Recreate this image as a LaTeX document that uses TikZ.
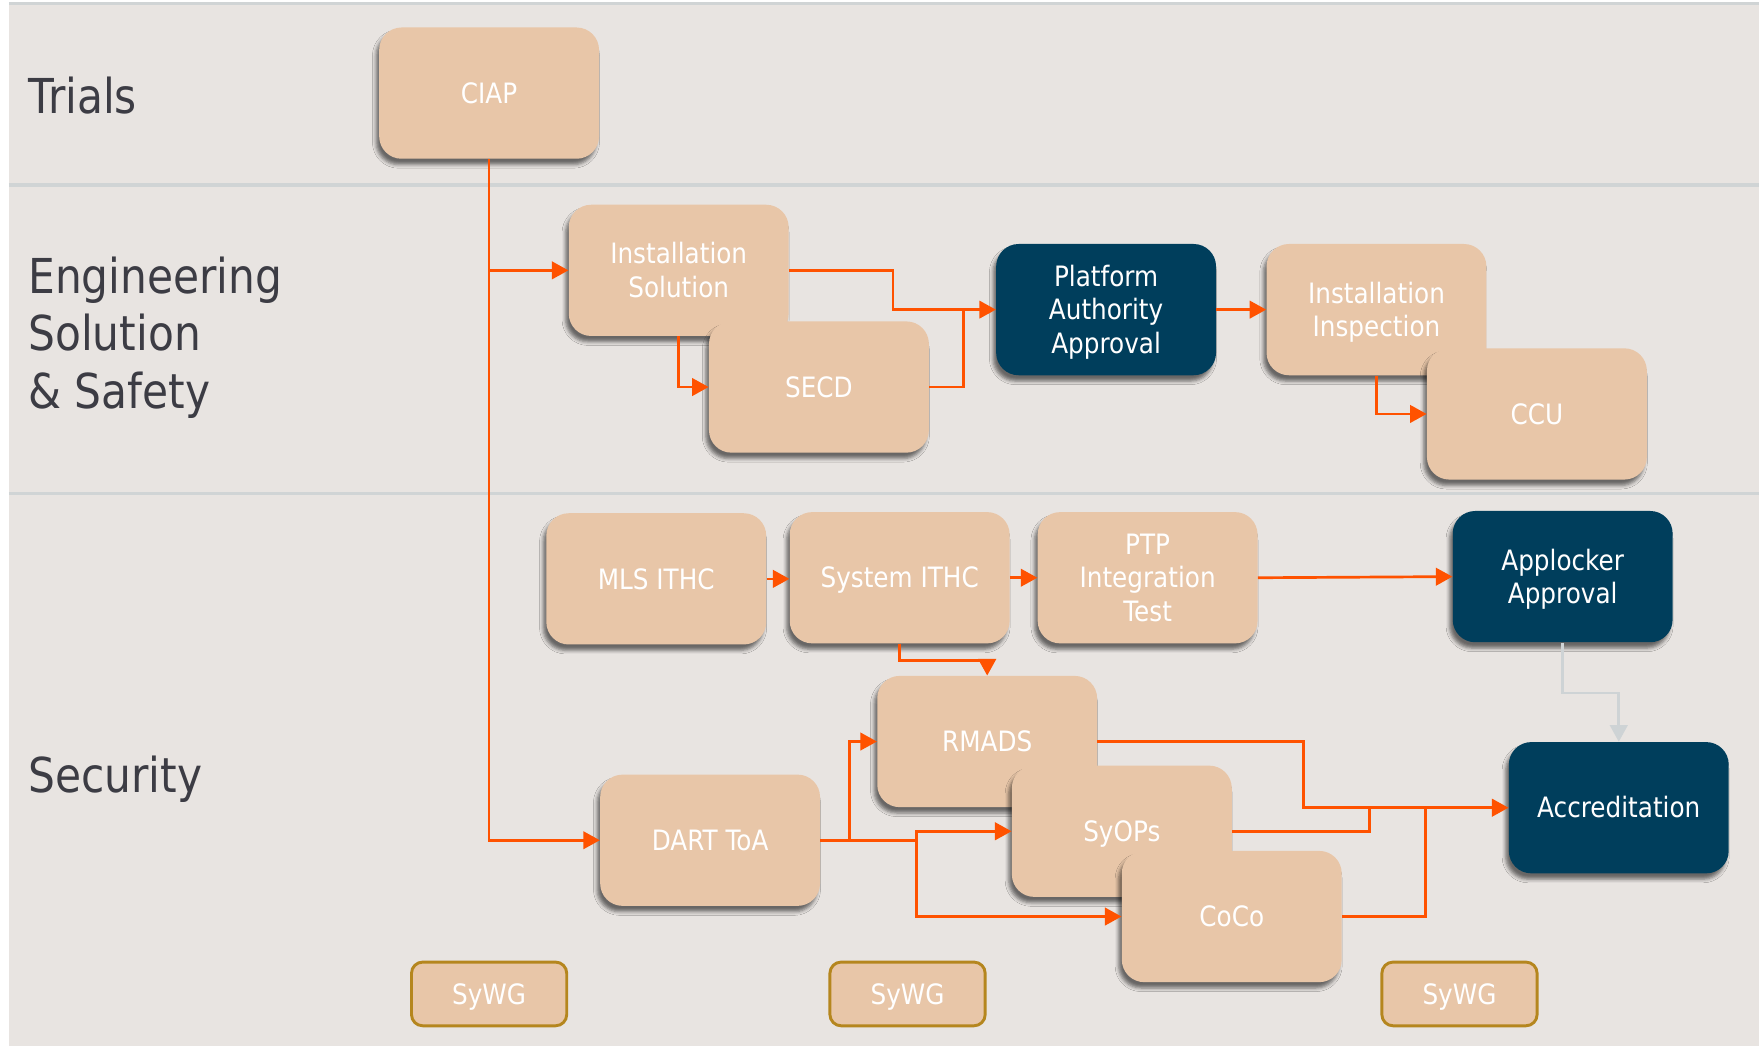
\documentclass[tikz,border=0pt]{standalone}
\usepackage{fontspec}
\setmainfont{DejaVu Sans}[FakeStretch=0.88]
\usetikzlibrary{arrows.meta,shadows.blur}
\definecolor{bgc}{RGB}{232,228,225}
\definecolor{sepc}{RGB}{208,212,213}
\definecolor{peach}{RGB}{232,198,168}
\definecolor{navy}{RGB}{0,62,92}
\definecolor{orng}{RGB}{255,82,0}
\definecolor{gold}{RGB}{181,134,30}
\definecolor{lanetxt}{RGB}{60,60,68}
\definecolor{greyarr}{RGB}{206,211,213}
\newcommand{\topstrut}{\rule{0pt}{18.3pt}}
\newcommand{\botstrut}{\rule[-5.3pt]{0pt}{0pt}}
\begin{document}
\begin{tikzpicture}[x=0.25mm,y=-0.25mm,
  box/.style={rounded corners=5mm, fill=peach, minimum width=49mm, minimum height=29.25mm,
    inner sep=1mm, text=white, font=\fontsize{17.8}{21.3}\selectfont, align=center,
    execute at begin node=\topstrut, execute at end node=\botstrut,
    blur shadow={shadow xshift=-0.7mm, shadow yshift=-1.3mm, shadow blur radius=0.8mm, shadow opacity=55}},
  darkbox/.style={box, fill=navy},
  sywgbox/.style={rounded corners=2.5mm, fill=peach, draw=gold, line width=0.65mm,
    minimum width=34.6mm, minimum height=14.2mm, inner sep=1mm, text=white,
    font=\fontsize{17.8}{21.3}\selectfont,
    execute at begin node=\topstrut, execute at end node=\botstrut},
  lane/.style={text=lanetxt, font=\fontsize{30.5}{36.6}\selectfont, inner sep=0pt},
  conn/.style={draw=orng, line width=0.6mm, -{Triangle[length=3.7mm,width=3.9mm]}},
  plain/.style={draw=orng, line width=0.6mm},
  gconn/.style={draw=greyarr, line width=0.6mm, -{Triangle[length=3.7mm,width=3.9mm]}},
  sepline/.style={draw=sepc, line width=0.75mm}
]
\useasboundingbox (0,0) rectangle (1568,932);
\fill[bgc] (8,3) rectangle (1568,932);
\draw[sepline] (8,3) -- (1568,3);
\draw[sepline] (8,165) -- (1568,165);
\draw[sepline] (8,440) -- (1568,440);

% lane labels
\node[lane, anchor=base west] (trials) at (25,101) {Trials};
\node[lane, anchor=west, align=left] (eng) at (25,301) {Engineering\\Solution\\\& Safety};
\node[lane, anchor=base west] (secu) at (25,706) {Security};

% nodes
\node[box] (ciap) at (436,83) {CIAP};
\node[box] (inst) at (605,241) {\topstrut Installation\\Solution};
\node[box] (secd) at (730,345) {SECD};
\node[darkbox] (paa) at (986,276) {\topstrut Platform\\Authority\\Approval};
\node[box] (insp) at (1227,276) {\topstrut Installation\\Inspection};
\node[box] (ccu) at (1370,369) {CCU};
\node[box] (mls) at (585,516) {MLS ITHC};
\node[box] (sys) at (802,515) {System ITHC};
\node[box] (ptp) at (1023,515) {\topstrut PTP\\Integration\\Test};
\node[darkbox] (app) at (1393,514) {\topstrut Applocker\\Approval};
\node[box] (rmads) at (880,661) {RMADS};
\node[box] (dart) at (633,749) {DART ToA};
\node[box] (syops) at (1000,741) {SyOPs};
\node[box] (coco) at (1098,817) {CoCo};
\node[darkbox] (acc) at (1443,720) {Accreditation};
\node[sywgbox] (w1) at (436,886) {SyWG};
\node[sywgbox] (w2) at (809,886) {SyWG};
\node[sywgbox] (w3) at (1301,886) {SyWG};

% connectors
\draw[conn] (ciap.south) -- (ciap.south |- dart.west) -- (dart.west);
\draw[conn] (ciap.south |- inst.west) -- (inst.west);
\draw[conn] (inst.south) |- (secd.west);
\draw[conn] (inst.east) -| (796,276) -- (paa.west);
\draw[plain] (secd.east) -| (859,276);
\draw[conn] (paa.east) -- (insp.west);
\draw[conn] (insp.south) |- (ccu.west);
\draw[conn] (mls.east) -- (mls.east -| sys.west);
\draw[conn] (sys.east) -- (ptp.west);
\draw[conn] (ptp.east) -- (app.west);
\draw[conn] (sys.south) -- ++(0,15) -| (rmads.north);
\draw[gconn] (app.south) -- ++(0,45) -| (acc.north);
\draw[conn] (dart.east) -- (757,749) |- (rmads.west);
\draw[conn] (dart.east) -- (817,749) |- (syops.west);
\draw[conn] (817,749) |- (coco.west);
\draw[conn] (rmads.east) -| (1162,720) -- (acc.west);
\draw[plain] (syops.east) -| (1221,720);
\draw[plain] (coco.east) -| (1271,720);
\end{tikzpicture}
\end{document}
